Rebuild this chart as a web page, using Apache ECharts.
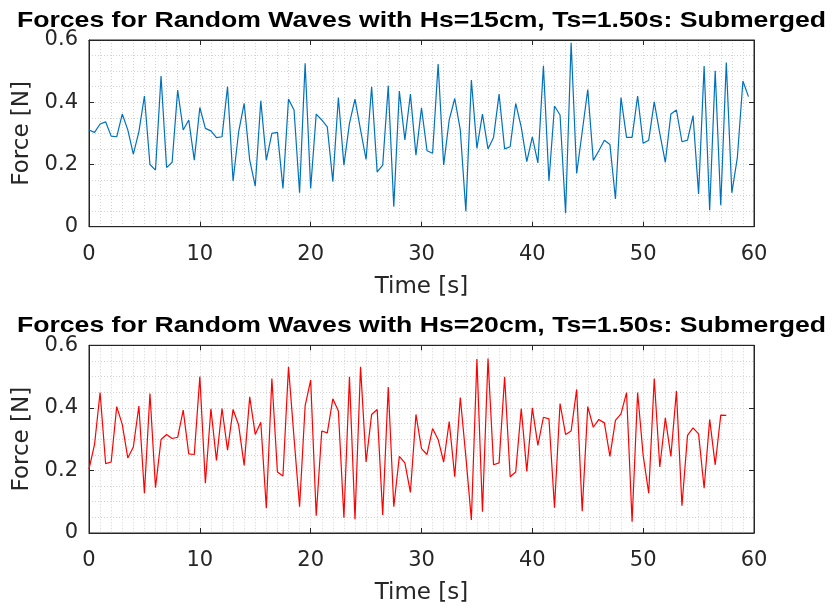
<!DOCTYPE html>
<html>
<head>
<meta charset="utf-8">
<style>
  html, body { margin: 0; padding: 0; background: #ffffff; }
  #chart { width: 832px; height: 611px; }
</style>
<script src="https://cdn.jsdelivr.net/npm/echarts@6/dist/echarts.min.js"></script>
</head>
<body>
<div id="chart"></div>
<script>
// ---- Data ----
const titles = [
  'Forces for Random Waves with Hs=15cm, Ts=1.50s: Submerged',
  'Forces for Random Waves with Hs=20cm, Ts=1.50s: Submerged'
];
const xAxisName = 'Time [s]';
const yAxisName = 'Force [N]';
const xTicks = [0, 10, 20, 30, 40, 50, 60];
const yTicks = [0, 0.2, 0.4, 0.6];
const sampleStep = 0.5; // seconds between samples

// Hs = 15 cm force samples (t = 0 ... 59.5 s)
const forceHs15 = [
  0.311, 0.303, 0.330, 0.337, 0.291, 0.289, 0.362, 0.311, 0.233, 0.305,
  0.420, 0.200, 0.182, 0.484, 0.190, 0.207, 0.439, 0.311, 0.343, 0.214,
  0.383, 0.316, 0.308, 0.286, 0.289, 0.450, 0.147, 0.305, 0.396, 0.214,
  0.130, 0.405, 0.214, 0.300, 0.303, 0.123, 0.410, 0.375, 0.109, 0.525,
  0.123, 0.362, 0.343, 0.321, 0.145, 0.415, 0.198, 0.332, 0.410, 0.311,
  0.216, 0.450, 0.176, 0.198, 0.453, 0.064, 0.436, 0.279, 0.426, 0.230,
  0.382, 0.244, 0.236, 0.523, 0.198, 0.343, 0.412, 0.311, 0.050, 0.471,
  0.252, 0.362, 0.250, 0.287, 0.426, 0.250, 0.257, 0.396, 0.320, 0.209,
  0.289, 0.205, 0.517, 0.147, 0.388, 0.359, 0.043, 0.591, 0.171, 0.305,
  0.441, 0.213, 0.244, 0.278, 0.264, 0.089, 0.415, 0.287, 0.287, 0.420,
  0.268, 0.278, 0.401, 0.300, 0.207, 0.362, 0.375, 0.273, 0.278, 0.357,
  0.105, 0.516, 0.053, 0.501, 0.069, 0.528, 0.109, 0.223, 0.468, 0.418
];

// Hs = 20 cm force samples (t = 0 ... 57.5 s)
const forceHs20 = [
  0.204, 0.283, 0.449, 0.222, 0.227, 0.404, 0.347, 0.240, 0.275, 0.406,
  0.127, 0.446, 0.145, 0.299, 0.315, 0.302, 0.306, 0.393, 0.253, 0.251,
  0.500, 0.159, 0.397, 0.232, 0.398, 0.265, 0.395, 0.345, 0.216, 0.435,
  0.315, 0.354, 0.079, 0.494, 0.195, 0.182, 0.531, 0.304, 0.084, 0.406,
  0.489, 0.055, 0.326, 0.320, 0.429, 0.390, 0.049, 0.499, 0.044, 0.531,
  0.227, 0.379, 0.395, 0.058, 0.467, 0.084, 0.245, 0.224, 0.130, 0.379,
  0.270, 0.251, 0.334, 0.299, 0.227, 0.356, 0.180, 0.433, 0.245, 0.042,
  0.556, 0.068, 0.558, 0.218, 0.224, 0.499, 0.180, 0.195, 0.398, 0.197,
  0.400, 0.280, 0.370, 0.365, 0.081, 0.414, 0.315, 0.326, 0.459, 0.070,
  0.404, 0.338, 0.363, 0.352, 0.245, 0.360, 0.381, 0.449, 0.036, 0.449,
  0.248, 0.127, 0.494, 0.211, 0.368, 0.245, 0.454, 0.087, 0.312, 0.336,
  0.317, 0.143, 0.363, 0.218, 0.377, 0.376
];

// ---- Build chart ----
const toPairs = vals => vals.map((v, i) => [i * sampleStep, v]);

const AX = '#262626';
const GRIDC = '#d2d2d2';
const tickFont = { fontFamily: 'DejaVu Sans', fontSize: 21, color: AX };
const nameFont = { fontFamily: 'DejaVu Sans', fontSize: 23, color: AX };

const plotTops = [40, 345.3];
const plotHeights = [186.7, 187.7];

const grids = plotTops.map((t, i) => ({
  left: 89, right: 78, top: t, height: plotHeights[i],
  show: true, borderColor: AX, borderWidth: 1, backgroundColor: '#fff', containLabel: false
}));

const dotted = { color: GRIDC, type: [1, 2], width: 1 };

function xMain(gi) {
  return {
    type: 'value', gridIndex: gi, position: 'bottom',
    min: xTicks[0], max: xTicks[xTicks.length - 1], interval: xTicks[1] - xTicks[0],
    name: xAxisName, nameLocation: 'middle', nameGap: 49, nameTextStyle: nameFont,
    axisLine: { show: true, onZero: false, lineStyle: { color: AX, width: 1 } },
    axisTick: { show: true, inside: true, length: 5, lineStyle: { color: AX } },
    axisLabel: Object.assign({ margin: 17 }, tickFont),
    splitLine: { show: true, lineStyle: dotted },
    minorTick: { show: false, splitNumber: 10 },
    minorSplitLine: { show: true, lineStyle: dotted }
  };
}
function xTop(gi) {
  return {
    type: 'value', gridIndex: gi, position: 'top',
    min: xTicks[0], max: xTicks[xTicks.length - 1], interval: xTicks[1] - xTicks[0],
    axisLine: { show: true, onZero: false, lineStyle: { color: AX, width: 1 } },
    axisTick: { show: true, inside: true, length: 5, lineStyle: { color: AX } },
    axisLabel: { show: false }, splitLine: { show: false }
  };
}
function yMain(gi) {
  return {
    type: 'value', gridIndex: gi, position: 'left',
    min: yTicks[0], max: yTicks[yTicks.length - 1], interval: yTicks[1] - yTicks[0],
    name: yAxisName, nameLocation: 'middle', nameGap: 54, nameTextStyle: nameFont,
    axisLine: { show: true, onZero: false, lineStyle: { color: AX, width: 1 } },
    axisTick: { show: true, inside: true, length: 5, lineStyle: { color: AX } },
    axisLabel: Object.assign({ margin: 11 }, tickFont),
    splitLine: { show: true, lineStyle: dotted },
    minorTick: { show: false, splitNumber: 4 },
    minorSplitLine: { show: true, lineStyle: dotted }
  };
}
function yRight(gi) {
  return {
    type: 'value', gridIndex: gi, position: 'right',
    min: yTicks[0], max: yTicks[yTicks.length - 1], interval: yTicks[1] - yTicks[0],
    axisLine: { show: true, onZero: false, lineStyle: { color: AX, width: 1 } },
    axisTick: { show: true, inside: true, length: 5, lineStyle: { color: AX } },
    axisLabel: { show: false }, splitLine: { show: false }
  };
}

const titleCenters = [21, 326.3];
const option = {
  backgroundColor: '#ffffff',
  animation: false,
  grid: grids,
  xAxis: [xMain(0), xTop(0), xMain(1), xTop(1)],
  yAxis: [yMain(0), yRight(0), yMain(1), yRight(1)],
  graphic: titles.map((t, i) => ({
    type: 'text', x: 421.5, y: titleCenters[i], scaleX: 1.21, z: 100,
    style: {
      text: t, font: 'bold 22px "Liberation Sans", Arial, sans-serif', fill: '#000000',
      align: 'center', verticalAlign: 'middle', textAlign: 'center', textVerticalAlign: 'middle'
    }
  })),
  series: [
    {
      type: 'line', name: 'Hs=15cm', xAxisIndex: 0, yAxisIndex: 0,
      data: toPairs(forceHs15), showSymbol: false, symbol: 'none',
      lineStyle: { color: '#0072BD', width: 1.2 }, itemStyle: { color: '#0072BD' }, z: 10
    },
    {
      type: 'line', name: 'Hs=20cm', xAxisIndex: 2, yAxisIndex: 2,
      data: toPairs(forceHs20), showSymbol: false, symbol: 'none',
      lineStyle: { color: '#FF0000', width: 1.2 }, itemStyle: { color: '#FF0000' }, z: 10
    }
  ]
};

const chart = echarts.init(document.getElementById('chart'), null, { renderer: 'canvas' });
chart.setOption(option);
</script>
</body>
</html>
